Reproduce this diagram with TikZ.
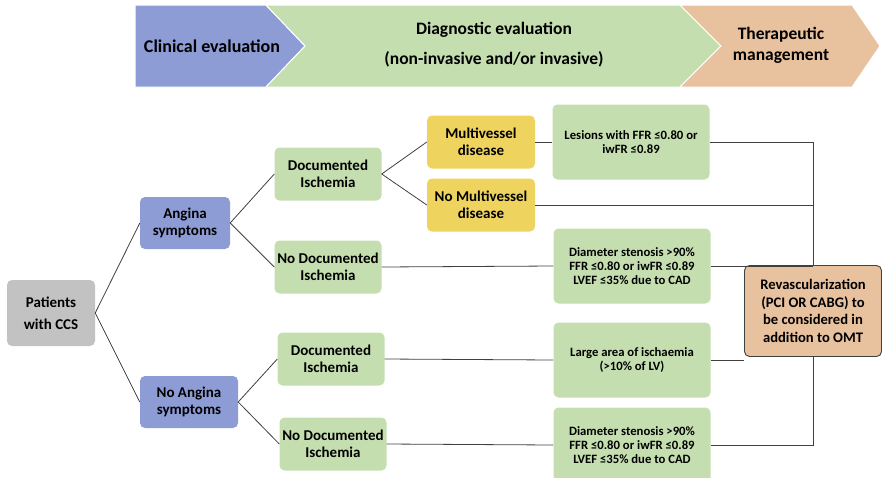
\documentclass[tikz,border=0pt]{standalone}
\usepackage{fontspec}
\setmainfont{Carlito}
\usetikzlibrary{positioning}

\definecolor{clinblue}{HTML}{8E9CD5}
\definecolor{diaggreen}{HTML}{C5DEB0}
\definecolor{therapytan}{HTML}{E8C19F}
\definecolor{mvyellow}{HTML}{EED35F}
\definecolor{ccsgrey}{HTML}{C2C2C2}
\definecolor{linegrey}{HTML}{404040}

\begin{document}
\begin{tikzpicture}[x=1pt,y=-1pt,inner sep=2pt,
  box/.style={rounded corners=5pt,align=center,font=\bfseries\fontsize{15}{16.5}\selectfont},
  greybox/.style={box,fill=ccsgrey,minimum width=88pt,minimum height=66pt},
  bluebox/.style={box,fill=clinblue,minimum height=52pt},
  greenbox/.style={box,fill=diaggreen,minimum width=107pt,minimum height=53pt},
  yellowbox/.style={box,fill=mvyellow,minimum width=108pt,minimum height=53pt},
  testbox/.style={box,fill=diaggreen,minimum width=157pt,minimum height=75pt,
    font=\bfseries\fontsize{12.7}{14.3}\selectfont},
  tanbox/.style={box,fill=therapytan,draw=linegrey,line width=0.9pt,
    minimum width=137pt,minimum height=91pt,font=\bfseries\fontsize{14.6}{17.7}\selectfont},
  phase/.style={draw=white,line width=1pt},
  link/.style={draw=linegrey,line width=0.8pt}]
\useasboundingbox (0,0) rectangle (882,477);

% header
\path[phase,fill=clinblue] (135,5) -- (266,5) -- (305,46) -- (266,87) -- (135,87) -- cycle;
\path[phase,fill=diaggreen] (266,5) -- (680,5) -- (721,46) -- (680,87) -- (266,87) -- (305,46) -- cycle;
\path[phase,fill=therapytan] (680,5) -- (852,5) -- (880,46) -- (852,87) -- (680,87) -- (721,46) -- cycle;
\node [font=\bfseries\fontsize{18}{30}\selectfont](clinical) at (212,46) {Clinical evaluation};
\node [font=\bfseries\fontsize{17.5}{30}\selectfont,align=center](diagnostic) at (494,45) {Diagnostic evaluation\\(non-invasive and/or invasive)};
\node [font=\bfseries\fontsize{17.5}{21}\selectfont,align=center](therapeutic) at (781,45) {Therapeutic\\management};

% boxes
\node [greybox,font=\bfseries\fontsize{15}{22}\selectfont](patients) at (51,313) {Patients\\with CCS};
\node [bluebox,minimum width=90pt](angina) at (185,223) {Angina\\symptoms};
\node [bluebox,minimum width=98pt](noangina) at (189,402) {No Angina\\symptoms};
\node [greenbox](docisch) at (328,174) {Documented\\Ischemia};
\node [greenbox](nodocisch) at (328,267) {No Documented\\Ischemia};
\node [greenbox](docischb) at (331,359) {Documented\\Ischemia};
\node [greenbox](nodocischb) at (333,444) {No Documented\\Ischemia};
\node [yellowbox](multi) at (481,142) {Multivessel\\disease};
\node [yellowbox](nomulti) at (481,205) {No Multivessel\\disease};
\node [testbox](lesions) at (631,142) {Lesions with FFR ≤0.80 or\\iwFR ≤0.89};
\node [testbox](stenosis) at (632,266) {Diameter stenosis >90\%\\FFR ≤0.80 or iwFR ≤0.89\\LVEF ≤35\% due to CAD};
\node [testbox](largearea) at (632,360) {Large area of ischaemia\\(>10\% of LV)};
\node [testbox](stenosisb) at (632,445) {Diameter stenosis >90\%\\FFR ≤0.80 or iwFR ≤0.89\\LVEF ≤35\% due to CAD};
\node [tanbox](revasc) at (813,311) {Revascularization\\(PCI OR CABG) to\\be considered in\\addition to OMT};

% connectors
\path[link]
 (patients.east) edge (angina.west)
 (patients.east) edge (noangina.west)
 (angina.east) edge (docisch.west)
 (angina.east) edge (nodocisch.west)
 (noangina.east) edge (docischb.west)
 (noangina.east) edge (nodocischb.west)
 (docisch.east) edge (multi.west)
 (docisch.east) edge (nomulti.west)
 (multi.east) edge (lesions.west)
 (nodocisch.east) edge (stenosis.west)
 (docischb.east) edge (largearea.west)
 (nodocischb.east) edge (stenosisb.west);
\draw[link] (lesions.east) -| (revasc.north);
\draw[link] (nomulti.east) -- (nomulti.east -| revasc.north);
\draw[link] (stenosis.east) -- (stenosis.east -| revasc.north);
\draw[link] (largearea.east) -- (largearea.east -| revasc.west);
\draw[link] (stenosisb.east) -| (revasc.south);
\end{tikzpicture}
\end{document}
